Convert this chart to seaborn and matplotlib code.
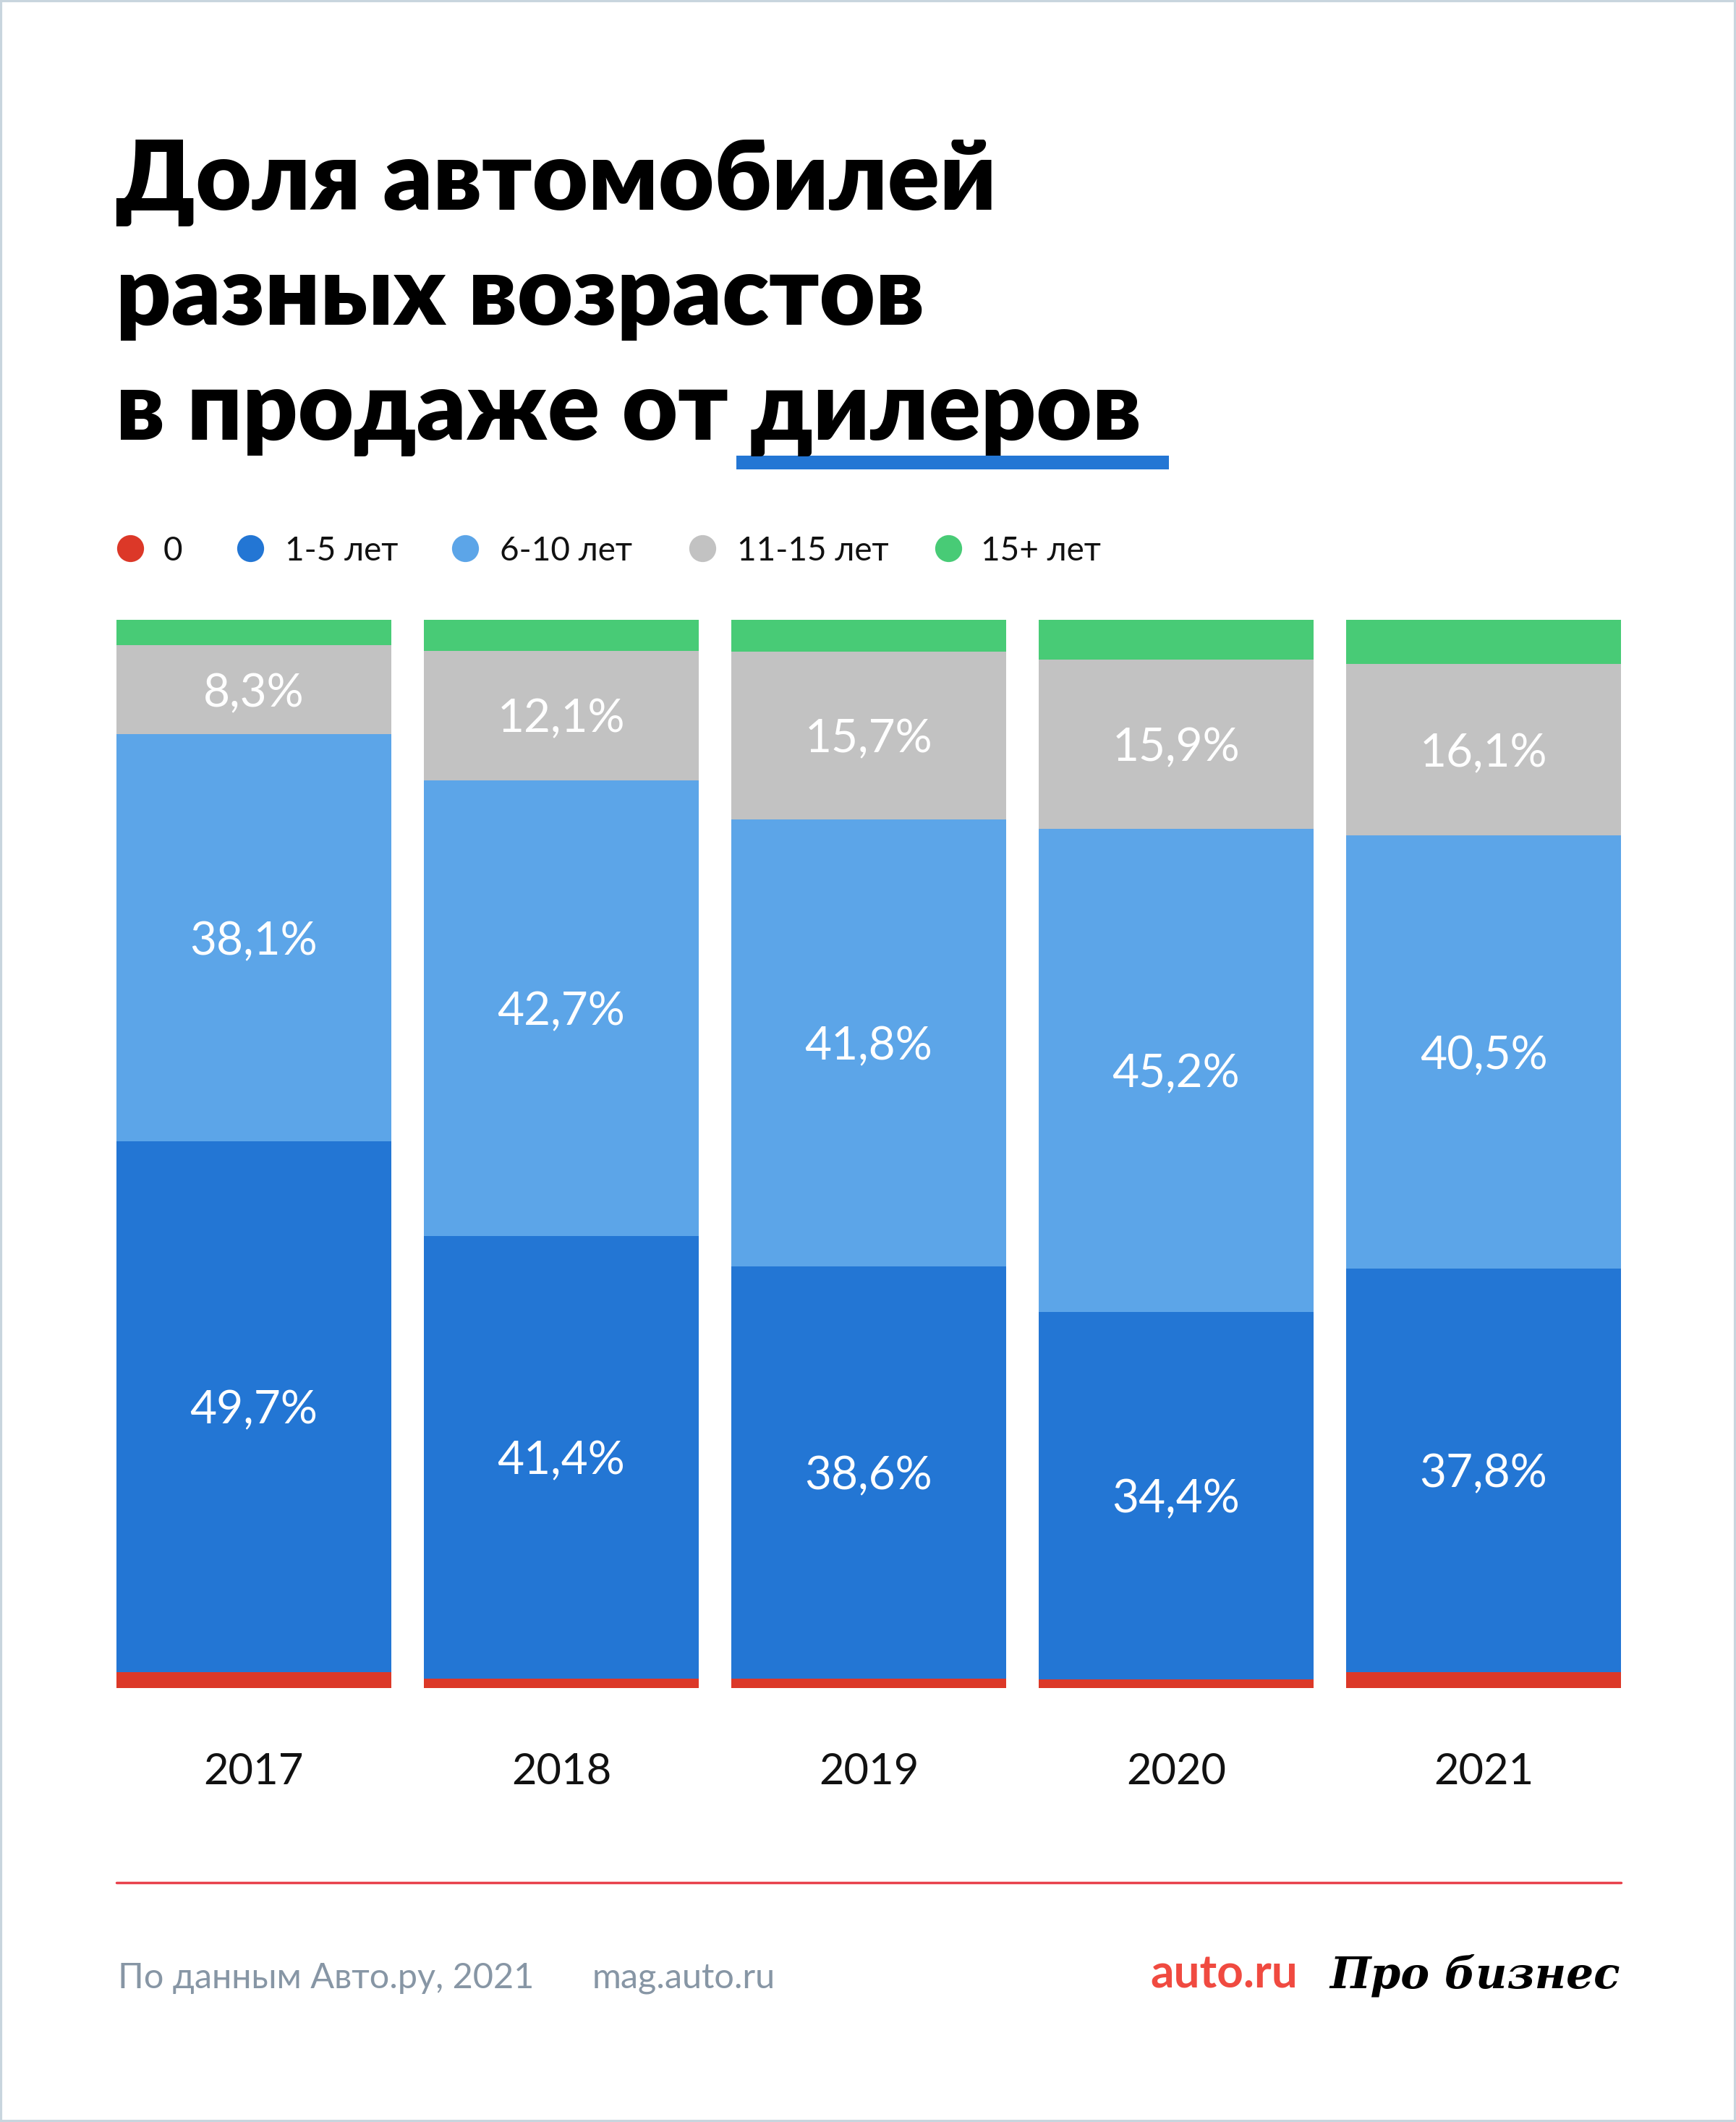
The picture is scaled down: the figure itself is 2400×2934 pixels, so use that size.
import numpy as np
import pandas as pd
import seaborn as sns
import matplotlib.pyplot as plt
from matplotlib.patches import Rectangle

# values, percent of listings
years = ['2017', '2018', '2019', '2020', '2021']
age_groups = ['0', '1-5 лет', '6-10 лет', '11-15 лет', '15+ лет']
share_0 = [1.5, 0.9, 0.9, 0.8, 1.5]
share_1_5 = [49.7, 41.4, 38.6, 34.4, 37.8]
share_6_10 = [38.1, 42.7, 41.8, 45.2, 40.5]
share_11_15 = [8.3, 12.1, 15.7, 15.9, 16.1]
share_15plus = [2.4, 2.9, 3.0, 3.7, 4.1]
labelled = [False, True, True, True, False]

colors = ['#dc3828', '#2376d4', '#5ca5e8', '#c2c2c2', '#48cb76']

df = pd.DataFrame({'year': years, '0': share_0, '1-5 лет': share_1_5,
                   '6-10 лет': share_6_10, '11-15 лет': share_11_15,
                   '15+ лет': share_15plus})
cum = df[age_groups].cumsum(axis=1)

sns.set_style('white')
plt.rcParams['font.family'] = ['Lato', 'DejaVu Sans']

W, H = 2400, 2934
fig = plt.figure(figsize=(24, 29.34), dpi=100)
fig.patch.set_facecolor('white')

# bar axes placed in pixel units
left, right, top, bottom = 161, 2241, 857, 2334
ax = fig.add_axes([left / W, 1 - bottom / H, (right - left) / W, (bottom - top) / H])
bw = 0.894
# stacked bars: draw cumulative totals, tallest first
for i in range(len(age_groups) - 1, -1, -1):
    sns.barplot(x=df['year'], y=cum[age_groups[i]], color=colors[i], width=bw,
                saturation=1, ax=ax, linewidth=0, order=years)

for i, grp in enumerate(age_groups):
    if not labelled[i]:
        continue
    for j in range(len(years)):
        v = df[grp][j]
        mid = cum[grp][j] - v / 2
        ax.text(j, mid, f"{v:.1f}".replace('.', ',') + '%', ha='center', va='center_baseline',
                color='white', fontsize=46)

ax.set_xlim(-bw / 2, len(years) - 1 + bw / 2)
ax.set_ylim(0, 100)
ax.set_xlabel('')
ax.set_ylabel('')
ax.set_yticks([])
ax.tick_params(axis='x', length=0, pad=64, labelsize=43, labelcolor='#111111')
sns.despine(ax=ax, left=True, bottom=True)

# overlay for title, legend and footer, pixel coordinates
ov = fig.add_axes([0, 0, 1, 1], zorder=-1)
ov.set_xlim(0, W)
ov.set_ylim(H, 0)
ov.axis('off')
ov.add_patch(Rectangle((1, 1), W - 2, H - 2, fill=False, edgecolor='#c8d5de', linewidth=3))

title_lines = ['Доля автомобилей', 'разных возрастов', 'в продаже от дилеров']
for k, line in enumerate(title_lines):
    ov.text(160, 290 + k * 159, line, fontsize=96, fontweight='heavy', color='black',
            ha='left', va='baseline')
ov.add_patch(Rectangle((1018, 630), 598, 19, color='#2376d4', linewidth=0))

leg_marker_x = [180, 346, 643, 971, 1311]
leg_text_x = [226, 394, 691, 1019, 1356]
for i, grp in enumerate(age_groups):
    ov.scatter([leg_marker_x[i]], [758], s=720, color=colors[i], linewidths=0)
    ov.text(leg_text_x[i], 758, grp, fontsize=33, va='center_baseline', ha='left', color='#111111')

ov.plot([161, 2241], [2603, 2603], color='#e8414c', linewidth=2.5)

ov.text(163, 2731, 'По данным Авто.ру, 2021', fontsize=35, color='#8796a5', va='center_baseline')
ov.text(819, 2731, 'mag.auto.ru', fontsize=35, color='#8796a5', va='center_baseline')
ov.text(1590, 2725, 'auto.ru', fontsize=46, fontweight='bold', color='#f04a40',
        ha='left', va='center_baseline')
ov.text(2240, 2725, 'Про бизнес', fontsize=43, fontstyle='italic', fontweight='bold',
        color='black', ha='right', va='center_baseline', family=['DejaVu Serif'])

fig.savefig('out.png', dpi=100, facecolor='white')
